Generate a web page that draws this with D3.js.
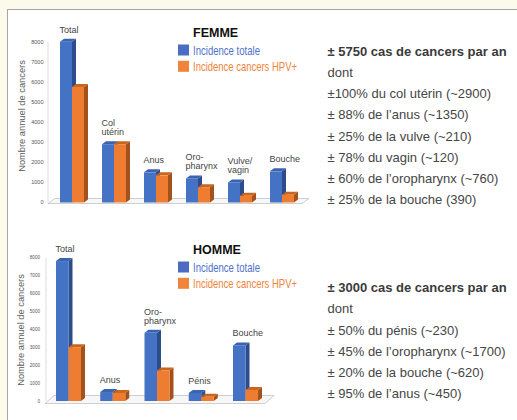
<!DOCTYPE html>
<html><head><meta charset="utf-8">
<script src="https://cdn.jsdelivr.net/npm/d3@7"></script>
<style>html,body{margin:0;padding:0;background:#fcfaea;}svg{display:block;font-family:"Liberation Sans",Arial,sans-serif;}</style>
</head><body><svg id="c" width="517" height="420"></svg>
<script>
const femmeCategories = ["Total","Col utérin","Anus","Oro-pharynx","Vulve/vagin","Bouche"];
const femmeLabelLines = [["Total"],["Col","utérin"],["Anus"],["Oro-","pharynx"],["Vulve/","vagin"],["Bouche"]];
const femmeTotale = [8000,2900,1500,1200,1000,1550];
const femmeHPV = [5750,2900,1350,760,330,390];

const hommeCategories = ["Total","Anus","Oro-pharynx","Pénis","Bouche"];
const hommeLabelLines = [["Total"],["Anus"],["Oro-","pharynx"],["Pénis"],["Bouche"]];
const hommeTotale = [7800,500,3800,450,3100];
const hommeHPV = [3000,450,1700,230,620];

const seriesNames = ["Incidence totale","Incidence cancers HPV+"];
const yTicks = [0,1000,2000,3000,4000,5000,6000,7000,8000];
const yTitle = "Nombre annuel de cancers";

const femmeText = ["± 5750 cas de cancers par an","dont","±100% du col utérin (~2900)","± 88% de l’anus  (~1350)","± 25% de la vulve (~210)","± 78% du vagin (~120)","± 60% de l’oropharynx (~760)","± 25% de la bouche (390)"];
const hommeText = ["± 3000 cas de cancers par an","dont","± 50% du pénis (~230)","± 45% de l’oropharynx (~1700)","± 20% de la bouche (~620)","± 95% de l’anus (~450)"];

const svg = d3.select("#c");
// frame
svg.append("rect").attr("x",7.5).attr("y",9.5).attr("width",520).attr("height",420)
  .attr("fill","#ffffff").attr("stroke","#a9a3ab").attr("stroke-width",1);

const colors = {
  front:["#4472c4","#ee7d31"],
  side:["#2c4c8c","#a4521b"],
  top:["#3a63b0","#c8661f"],
  legend:["#4a6cc2","#f0843a"],
  legendText:["#4d72cc","#f0843a"]
};

function drawChart(cfg){
  const g = svg.append("g");
  const y = d3.scaleLinear().domain([0,8000]).range([cfg.y0, cfg.y8]);
  const x = d3.scaleBand().domain(cfg.cats).range([cfg.xStart, cfg.xStart + cfg.step*cfg.cats.length]).paddingInner(0).paddingOuter(0);
  const xs = d3.scaleBand().domain([0,1]).range([0, cfg.bw*2]);
  const dx = 4, dy = 3;

  // floor
  const fl = cfg.floor;
  g.append("path").attr("d",`M${fl.x0},${fl.yf}L${fl.x1},${fl.yf}L${fl.x1+fl.dx},${fl.yf-fl.dy}L${fl.x0+fl.dx},${fl.yf-fl.dy}Z`)
    .attr("fill","#f7f7f7").attr("stroke","#c4c4c4").attr("stroke-width",0.8);

  // y axis
  g.append("line").attr("x1",cfg.axisX).attr("x2",cfg.axisX).attr("y1",y(8000)).attr("y2",y(0))
    .attr("stroke","#d4d4d4").attr("stroke-width",0.8);
  g.selectAll(".tick").data(yTicks).join("text")
    .attr("x",cfg.tickX).attr("y",d=>y(d)+cfg.tickFs*0.35)
    .attr("text-anchor","end").attr("font-size",cfg.tickFs).attr("fill","#555")
    .text(d=>d);
  g.append("text").attr("transform",`translate(${cfg.titleX},${cfg.titleY}) rotate(-90)`)
    .attr("text-anchor","middle").attr("font-size",9.3).attr("fill","#5a5a5a").text(yTitle);

  // bars
  const data = cfg.cats.map((c,i)=>({c,i,vals:[cfg.tot[i],cfg.hpv[i]]}));
  data.forEach(d=>{
    const gx = x(d.c);
    [1,0].forEach(s=>{}); 
    d.vals.forEach((v,s)=>{
      const x0 = gx + xs(s), w = cfg.bw, yt = y(v), yb = y(0);
      g.append("path").attr("d",`M${x0+w},${yt}L${x0+w+dx},${yt-dy}L${x0+w+dx},${yb-dy}L${x0+w},${yb}Z`).attr("fill",colors.side[s]);
      g.append("path").attr("d",`M${x0},${yt}L${x0+dx},${yt-dy}L${x0+w+dx},${yt-dy}L${x0+w},${yt}Z`).attr("fill",colors.top[s]);
      g.append("rect").attr("x",x0).attr("y",yt).attr("width",w).attr("height",yb-yt).attr("fill",colors.front[s]);
    });
    // label
    const lines = cfg.labels[d.i];
    const base = y(d3.max(d.vals)) - 9 - (lines.length-1)*9;
    const t = g.append("text").attr("font-size",9).attr("fill","#444");
    lines.forEach((l,k)=>t.append("tspan").attr("x",gx-0.5).attr("y",base+k*9).text(l));
  });

  // legend
  g.append("text").attr("x",193).attr("y",cfg.legY).attr("font-size",12.5).attr("font-weight","bold").attr("fill","#111").text(cfg.title);
  seriesNames.forEach((n,s)=>{
    const by = cfg.legY + 7.5 + s*16.3;
    g.append("rect").attr("x",178).attr("y",by).attr("width",11).attr("height",11).attr("fill",colors.legend[s]);
    g.append("text").attr("x",193).attr("y",by+10).attr("font-size",13.5).attr("fill",colors.legendText[s])
      .attr("textLength",s===0?67:104).attr("lengthAdjust","spacingAndGlyphs").text(n);
  });

  // right text
  cfg.text.forEach((l,k)=>{
    g.append("text").attr("x",327.5).attr("y",cfg.textY + k*21.25).attr("font-size",13)
      .attr("font-weight",k===0?"bold":"normal").attr("fill",k===0?"#3a3a3a":"#454545").text(l);
  });
}

drawChart({cats:femmeCategories,labels:femmeLabelLines,tot:femmeTotale,hpv:femmeHPV,
  y0:202.5,y8:41.7,xStart:60,step:42,bw:12,
  floor:{x0:48,x1:302,yf:203.5,dx:7,dy:5},
  axisX:48,tickX:43.5,tickFs:5.5,titleX:25,titleY:116,
  title:"FEMME",legY:37,text:femmeText,textY:55.5});

drawChart({cats:hommeCategories,labels:hommeLabelLines,tot:hommeTotale,hpv:hommeHPV,
  y0:401,y8:257.5,xStart:56,step:44.25,bw:12.5,
  floor:{x0:45,x1:265,yf:403.5,dx:9,dy:8},
  axisX:46,tickX:40,tickFs:4.6,titleX:24,titleY:330,
  title:"HOMME",legY:254,text:hommeText,textY:292});
</script></body></html>
